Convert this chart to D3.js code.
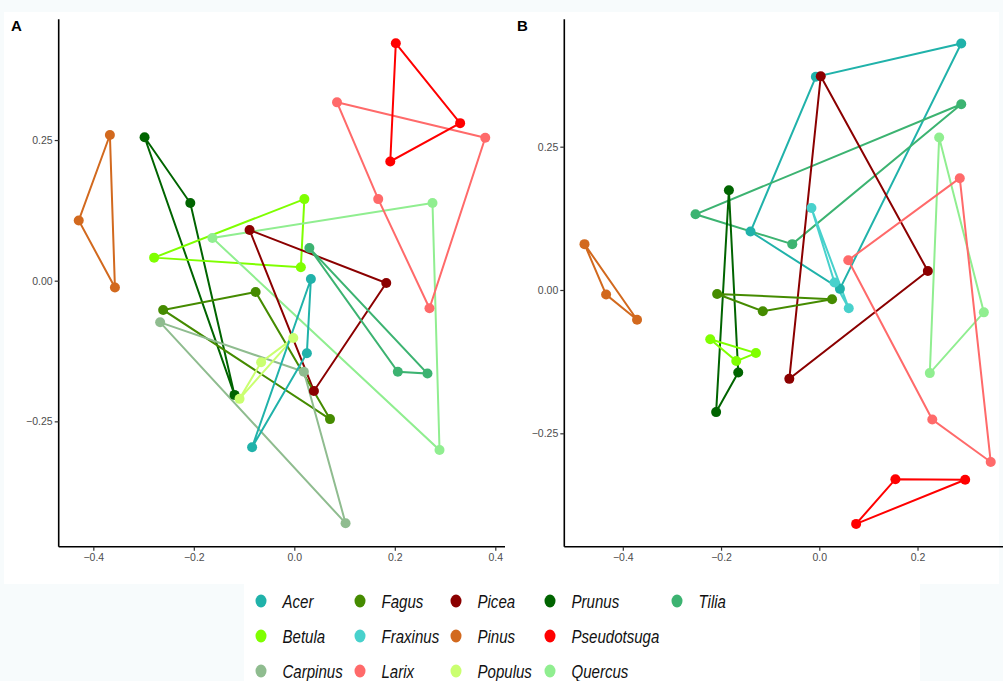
<!DOCTYPE html>
<html>
<head>
<meta charset="utf-8">
<script src="https://cdn.jsdelivr.net/npm/d3@7"></script>
<style>
  body { margin: 0; background: #f7fbfc; }
  svg { display: block; font-family: "Liberation Sans", Arial, sans-serif; }
</style>
</head>
<body>
<div id="chart"></div>
<script>
var genera = ["Acer", "Betula", "Carpinus", "Fagus", "Fraxinus", "Larix", "Picea",
  "Pinus", "Populus", "Prunus", "Pseudotsuga", "Quercus", "Tilia"];
var colors = ["#20B2AA", "#7FFF00", "#8FBC8F", "#458B00", "#48D1CC", "#FF6A6A", "#8B0000",
  "#D2691E", "#CAFF70", "#006400", "#FF0000", "#90EE90", "#3CB371"];

var xTicksA = [-0.4, -0.2, 0, 0.2, 0.4];
var xTicksB = [-0.4, -0.2, 0, 0.2];
var yTicks = [-0.25, 0, 0.25];

// panel A samples (path order within each genus)
var aGenus = ["Pinus", "Pinus", "Pinus",
  "Prunus", "Prunus", "Prunus",
  "Betula", "Betula", "Betula",
  "Quercus", "Quercus", "Quercus",
  "Picea", "Picea", "Picea",
  "Tilia", "Tilia", "Tilia",
  "Larix", "Larix", "Larix", "Larix",
  "Pseudotsuga", "Pseudotsuga", "Pseudotsuga",
  "Fagus", "Fagus", "Fagus",
  "Carpinus", "Carpinus", "Carpinus",
  "Populus", "Populus", "Populus",
  "Acer", "Acer", "Acer"];
var aX = [-0.367, -0.429, -0.357,
  -0.298, -0.207, -0.119,
  0.020, -0.279, 0.013,
  0.275, -0.163, 0.289,
  -0.089, 0.183, 0.039,
  0.030, 0.206, 0.265,
  0.085, 0.380, 0.269, 0.167,
  0.202, 0.330, 0.191,
  -0.077, -0.261, 0.071,
  -0.267, 0.019, 0.102,
  -0.002, -0.066, -0.109,
  0.033, 0.025, -0.084];
var aY = [0.259, 0.107, -0.012,
  0.255, 0.138, -0.203,
  0.145, 0.041, 0.024,
  0.138, 0.076, -0.301,
  0.090, -0.004, -0.196,
  0.058, -0.162, -0.165,
  0.317, 0.254, -0.049, 0.145,
  0.422, 0.280, 0.212,
  -0.020, -0.052, -0.246,
  -0.074, -0.162, -0.431,
  -0.102, -0.145, -0.210,
  0.003, -0.129, -0.296];

// panel B samples
var bGenus = ["Acer", "Acer", "Acer", "Acer",
  "Tilia", "Tilia", "Tilia",
  "Picea", "Picea", "Picea",
  "Prunus", "Prunus", "Prunus",
  "Pinus", "Pinus", "Pinus",
  "Fagus", "Fagus", "Fagus",
  "Betula", "Betula", "Betula",
  "Quercus", "Quercus", "Quercus",
  "Larix", "Larix", "Larix", "Larix",
  "Pseudotsuga", "Pseudotsuga", "Pseudotsuga",
  "Fraxinus", "Fraxinus", "Fraxinus"];
var bX = [-0.140, -0.007, 0.289, 0.042,
  0.289, -0.252, -0.055,
  0.003, 0.221, -0.061,
  -0.184, -0.165, -0.210,
  -0.478, -0.434, -0.371,
  -0.208, 0.026, -0.115,
  -0.222, -0.129, -0.169,
  0.244, 0.335, 0.225,
  0.059, 0.286, 0.349, 0.230,
  0.155, 0.297, 0.075,
  -0.016, 0.031, 0.060];
var bY = [0.102, 0.372, 0.430, 0.002,
  0.324, 0.132, 0.080,
  0.373, 0.033, -0.155,
  0.174, -0.144, -0.213,
  0.080, -0.008, -0.052,
  -0.007, -0.016, -0.037,
  -0.086, -0.110, -0.124,
  0.266, -0.039, -0.145,
  0.052, 0.195, -0.300, -0.226,
  -0.330, -0.331, -0.408,
  0.143, 0.013, -0.032];

var color = d3.scaleOrdinal().domain(genera).range(colors);

var svg = d3.select("#chart").append("svg")
  .attr("width", 1003)
  .attr("height", 681);

svg.append("rect").attr("x", 4).attr("y", 12).attr("width", 995).attr("height", 572).attr("fill", "#fff");
svg.append("rect").attr("x", 244).attr("y", 584).attr("width", 676).attr("height", 97).attr("fill", "#fff");

function panel(label, genusArr, xs, ys, xDom, yDom, xRange, yRange, xTicks, labelX) {
  var x = d3.scaleLinear().domain(xDom).range(xRange);
  var y = d3.scaleLinear().domain(yDom).range(yRange);
  var g = svg.append("g");

  var pts = genusArr.map(function(gn, i) { return {genus: gn, x: xs[i], y: ys[i]}; });
  var groups = d3.groups(pts, function(d) { return d.genus; });

  var line = d3.line()
    .x(function(d) { return x(d.x); })
    .y(function(d) { return y(d.y); })
    .curve(d3.curveLinearClosed);

  g.selectAll(".path")
    .data(groups)
    .enter().append("path")
    .attr("d", function(d) { return line(d[1]); })
    .attr("fill", "none")
    .attr("stroke", function(d) { return color(d[0]); })
    .attr("stroke-width", 2);

  g.selectAll(".pt")
    .data(pts)
    .enter().append("circle")
    .attr("cx", function(d) { return x(d.x); })
    .attr("cy", function(d) { return y(d.y); })
    .attr("r", 5)
    .attr("fill", function(d) { return color(d.genus); });

  var xAxis = g.append("g")
    .attr("transform", "translate(0," + yRange[0] + ")")
    .call(d3.axisBottom(x).tickValues(xTicks).tickSize(4).tickPadding(3)
      .tickFormat(d3.format(".1f")));
  var yAxis = g.append("g")
    .attr("transform", "translate(" + xRange[0] + ",0)")
    .call(d3.axisLeft(y).tickValues(yTicks).tickSize(4).tickPadding(2)
      .tickFormat(d3.format(".2f")));

  [xAxis, yAxis].forEach(function(ax) {
    ax.select(".domain").attr("stroke", "#000").attr("stroke-width", 1.6);
    ax.selectAll(".tick line").attr("stroke", "#333").attr("stroke-width", 1.2);
    ax.selectAll(".tick text").attr("fill", "#4d4d4d").style("font-size", "10.5px")
      .style("font-family", "'Liberation Sans', Arial, sans-serif");
  });
  xAxis.select(".domain").attr("d", "M" + xRange[0] + ",0H" + xRange[1]);
  yAxis.select(".domain").attr("d", "M0," + yRange[0] + "V" + yRange[1]);

  svg.append("text")
    .attr("x", labelX)
    .attr("y", 31)
    .style("font-weight", "bold")
    .style("font-size", "15px")
    .text(label);
}

panel("A", aGenus, aX, aY, [-0.4689, 0.4193], [-0.4728, 0.4646], [58.7, 505], [546.7, 19.3], xTicksA, 11);
panel("B", bGenus, bX, bY, [-0.5191, 0.374], [-0.4478, 0.4722], [564.3, 1003], [546.7, 19.3], xTicksB, 517);

// legend: 5 columns, filled column by column
var legX = [261, 360, 456, 550, 677];
var legY = [601, 636, 671];
var leg = svg.append("g");
genera.forEach(function(gn, i) {
  var col = Math.floor(i / 3), row = i % 3;
  leg.append("ellipse")
    .attr("cx", legX[col])
    .attr("cy", legY[row])
    .attr("rx", 5.5)
    .attr("ry", 6.5)
    .attr("fill", color(gn));
  leg.append("text")
    .attr("transform", "translate(" + (legX[col] + 21.5) + "," + (legY[row] + 6.5) + ") scale(0.86,1)")
    .style("font-style", "italic")
    .style("font-size", "17.5px")
    .attr("fill", "#111")
    .text(gn);
});
</script>
</body>
</html>
